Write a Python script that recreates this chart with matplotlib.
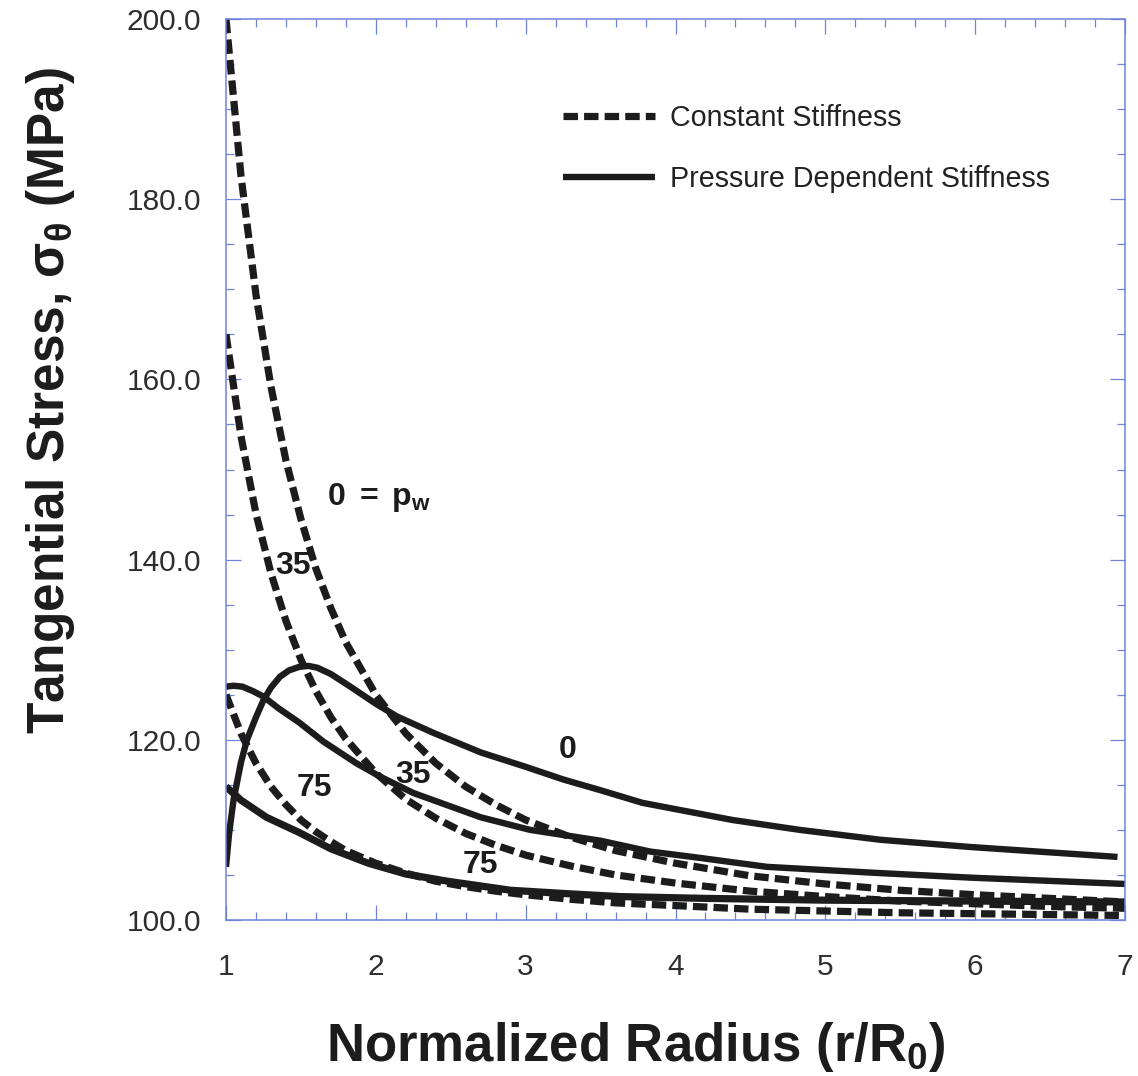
import matplotlib
matplotlib.use("Agg")
import matplotlib.pyplot as plt
from matplotlib.ticker import MultipleLocator, FormatStrFormatter

# ---------------- data ----------------
# Constant stiffness (dashed), p_w = 0, 35, 75 MPa
const_x = [1.0, 1.1, 1.2, 1.3, 1.4, 1.5, 1.6, 1.7, 1.8, 2.0, 2.2, 2.4, 2.6,
           2.8, 3.0, 3.3, 3.6, 4.0, 4.5, 5.0, 5.5, 6.0, 6.5, 7.0]
const_p0 = [200.0, 182.6, 169.4, 159.2, 151.0, 144.5, 139.0, 134.6, 130.8,
            125.0, 120.7, 117.4, 114.8, 112.8, 111.1, 109.2, 107.7, 106.3,
            104.9, 104.0, 103.3, 102.8, 102.4, 102.0]
const_p35 = [165.0, 153.7, 145.1, 138.5, 133.2, 128.9, 125.4, 122.5, 120.1,
             116.3, 113.4, 111.3, 109.6, 108.3, 107.2, 106.0, 105.0, 104.1,
             103.2, 102.6, 102.1, 101.8, 101.5, 101.3]
const_p75 = [125.0, 120.7, 117.4, 114.8, 112.8, 111.1, 109.8, 108.7, 107.7,
             106.3, 105.2, 104.3, 103.7, 103.2, 102.8, 102.3, 101.9, 101.6,
             101.2, 101.0, 100.8, 100.7, 100.6, 100.5]

# Pressure dependent stiffness (solid)
pd0_x = [1.0, 1.02, 1.05, 1.1, 1.14, 1.2, 1.25, 1.3, 1.36, 1.42, 1.49, 1.55,
         1.61, 1.7, 1.83, 2.0, 2.14, 2.38, 2.7, 3.0, 3.25, 3.5, 3.78, 4.38,
         4.83, 5.37, 5.97, 6.95]
pd0_y = [105.9, 109.5, 113.3, 117.5, 120.0, 122.5, 124.4, 125.8, 127.0, 127.7,
         128.1, 128.2, 128.0, 127.3, 125.9, 124.0, 122.6, 120.8, 118.6, 117.0,
         115.6, 114.4, 113.0, 111.1, 110.0, 108.9, 108.1, 107.0]
pd35_x = [1.0, 1.05, 1.11, 1.18, 1.25, 1.35, 1.49, 1.65, 1.87, 2.03, 2.25, 2.7,
          3.03, 3.5, 3.83, 4.16, 4.61, 5.37, 5.97, 7.0]
pd35_y = [125.9, 126.0, 125.9, 125.4, 124.8, 123.5, 121.9, 119.8, 117.4, 115.9,
          114.1, 111.4, 110.0, 108.8, 107.6, 106.9, 105.9, 105.2, 104.7, 104.0]
pd75_x = [1.0, 1.1, 1.27, 1.49, 1.7, 1.95, 2.2, 2.48, 2.9, 3.3, 3.63, 4.2,
          5.0, 6.0, 7.0]
pd75_y = [114.8, 113.3, 111.4, 109.7, 107.9, 106.3, 105.1, 104.3, 103.3, 102.9,
          102.6, 102.4, 102.2, 102.1, 102.0]

x_ticks = [1, 2, 3, 4, 5, 6, 7]
y_ticks = [100.0, 120.0, 140.0, 160.0, 180.0, 200.0]

# curve annotations: (text, x, y)
labels = [(r"$\mathbf{0\ =\ p_{w}}$", 1.674, 146.1),
          ("35", 1.45, 139.3),
          ("0", 3.28, 118.9),
          ("35", 2.25, 116.1),
          ("75", 1.59, 114.7),
          ("75", 2.70, 106.1)]

# ---------------- style ----------------
plt.rcParams["font.family"] = ["Liberation Sans", "DejaVu Sans"]
plt.rcParams["mathtext.fontset"] = "custom"
plt.rcParams["mathtext.rm"] = "Liberation Sans"
plt.rcParams["mathtext.bf"] = "Liberation Sans:bold"
plt.rcParams["mathtext.it"] = "Liberation Sans:italic"
plt.rcParams["mathtext.sf"] = "Liberation Sans"

SPINE = "#6f82dc"
INK = "#1c1c1c"

fig = plt.figure(figsize=(11.38, 10.76), dpi=100)
ax = fig.add_axes([226 / 1138, 1 - 920 / 1076, 899 / 1138, 901 / 1076])

DASH = (2.0, 0.85)
LWD = 5.2
LWS = 4.6

ax.plot(pd75_x, pd75_y, color=INK, lw=LWS + 0.6, solid_capstyle="butt")
ax.plot(pd35_x, pd35_y, color=INK, lw=LWS, solid_capstyle="butt")
ls0, = ax.plot(pd0_x, pd0_y, color=INK, lw=LWS, solid_capstyle="butt",
               label="Pressure Dependent Stiffness")
ld0, = ax.plot(const_x, const_p0, color=INK, lw=LWD, dashes=DASH,
               dash_capstyle="butt", label="Constant Stiffness")
ax.plot(const_x, const_p35, color=INK, lw=LWD, dashes=DASH, dash_capstyle="butt")
ax.plot(const_x, const_p75, color=INK, lw=LWD, dashes=DASH, dash_capstyle="butt")

for txt, x, y in labels:
    if txt.startswith("$"):
        ax.text(x, y, txt, fontsize=23, fontweight="bold", color=INK,
                ha="left", va="baseline")
    else:
        ax.text(x, y, txt, fontsize=23, fontweight="bold", color=INK,
                ha="center", va="center")

ax.set_xlim(1, 7)
ax.set_ylim(100, 200)
ax.set_xticks(x_ticks)
ax.set_yticks(y_ticks)
ax.xaxis.set_minor_locator(MultipleLocator(0.2))
ax.yaxis.set_minor_locator(MultipleLocator(5))
ax.yaxis.set_major_formatter(FormatStrFormatter("%.1f"))

for s in ax.spines.values():
    s.set_color(SPINE)
    s.set_linewidth(1.1)
ax.tick_params(which="both", direction="in", top=True, right=True,
               color=SPINE, width=0.9)
ax.tick_params(which="major", length=11)
ax.tick_params(which="minor", length=5.5)
ax.tick_params(axis="y", which="major", labelsize=21.5, labelcolor="#2e2e2e", pad=18)
ax.tick_params(axis="x", which="major", labelsize=21.5, labelcolor="#2e2e2e", pad=24)

leg = ax.legend(handles=[ld0, ls0], loc="center left",
                bbox_to_anchor=(0.375, 0.856), frameon=False, fontsize=20.6,
                handlelength=3.2, handletextpad=0.52, labelspacing=1.15,
                borderpad=0, borderaxespad=0)
for t in leg.get_texts():
    t.set_color("#222222")

ax.text(0.456, -0.157, r"Normalized Radius (r/R$_\mathbf{0}$)",
        transform=ax.transAxes, fontsize=38, fontweight="bold", color=INK,
        ha="center", va="baseline")
ax.text(-0.195, 0.576, r"Tangential Stress, $\mathregular{\sigma_\theta}$ (MPa)",
        transform=ax.transAxes, fontsize=37, fontweight="bold", color=INK,
        ha="center", va="center", rotation=90)

fig.savefig("out.png", dpi=100)
